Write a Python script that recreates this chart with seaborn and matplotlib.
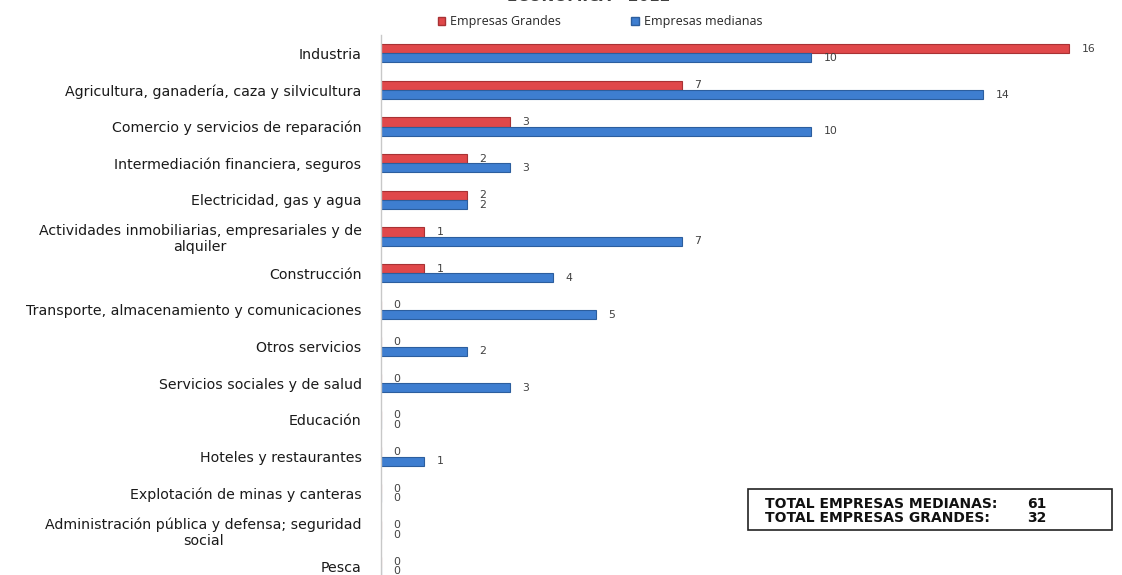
import matplotlib
matplotlib.use("Agg")
import matplotlib.pyplot as plt
from matplotlib.patches import Patch, Rectangle
import seaborn as sns
import pandas as pd

sectores = [
    "Industria",
    "Agricultura, ganadería, caza y silvicultura",
    "Comercio y servicios de reparación",
    "Intermediación financiera, seguros",
    "Electricidad, gas y agua",
    "Actividades inmobiliarias, empresariales y de\nalquiler",
    "Construcción",
    "Transporte, almacenamiento y comunicaciones",
    "Otros servicios",
    "Servicios sociales y de salud",
    "Educación",
    "Hoteles y restaurantes",
    "Explotación de minas y canteras",
    "Administración pública y defensa; seguridad\nsocial",
    "Pesca",
]
grandes = [16, 7, 3, 2, 2, 1, 1, 0, 0, 0, 0, 0, 0, 0, 0]
medianas = [10, 14, 10, 3, 2, 7, 4, 5, 2, 3, 0, 1, 0, 0, 0]
series = ["Empresas Grandes", "Empresas medianas"]
colores = ["#E0484A", "#3E7ED0"]
bordes = ["#A83234", "#2C5E9E"]
totales = [("TOTAL EMPRESAS MEDIANAS:", sum(medianas)),
           ("TOTAL EMPRESAS GRANDES:", sum(grandes))]

df = pd.DataFrame({
    "sector": sectores * 2,
    "valor": grandes + medianas,
    "serie": [series[0]] * len(sectores) + [series[1]] * len(sectores),
})

sns.set_theme(style="white")
plt.rcParams["font.family"] = ["DejaVu Sans"]

W, H = 1122, 575
fig = plt.figure(figsize=(W / 100, H / 100), dpi=100)
x0 = 381
ax = fig.add_axes([x0 / W, 1 - 585 / H, (W - x0) / W, 550 / H])

sns.barplot(data=df, y="sector", x="valor", hue="serie", hue_order=series,
            palette=colores, saturation=1, orient="h", width=0.5, ax=ax,
            legend=False)

# borde más oscuro en cada barra para dar volumen
for cont, borde in zip(ax.containers, bordes):
    for bar in cont:
        bar.set_edgecolor(borde)
        bar.set_linewidth(0.8)

ax.set_xlim(0, (W - x0) / 43.0)
ax.set_xlabel("")
ax.set_ylabel("")
ax.set_xticks([])
ax.tick_params(axis="y", length=0, pad=14, labelsize=10.2, labelcolor="#1a1a1a")
for lbl in ax.get_yticklabels():
    lbl.set_horizontalalignment("right")
    lbl.set_multialignment("center")
for s in ["top", "right", "bottom"]:
    ax.spines[s].set_visible(False)
ax.spines["left"].set_color("#c8c8c8")
ax.spines["left"].set_linewidth(1.0)

for cont in ax.containers:
    ax.bar_label(cont, fmt="%d", padding=9, fontsize=7.8, color="#404040")

# leyenda
handles = [Patch(facecolor=c, edgecolor=b) for c, b in zip(colores, bordes)]
fig.legend(handles, series, loc="center", bbox_to_anchor=(600 / W, 1 - 22 / H),
           ncol=2, frameon=False, handlelength=0.6, handleheight=0.6,
           handletextpad=0.4, columnspacing=5.6,
           prop={"family": "Open Sans", "size": 9})

fig.text(589 / W, 1 - 1 / H, "ECONÓMICA - 2012", ha="center", va="baseline",
         fontsize=11, fontweight="bold", color="#404040")

# recuadro de totales
fig.patches.append(Rectangle((748 / W, 1 - 530 / H), 364 / W, 41 / H,
                             transform=fig.transFigure, fill=False,
                             edgecolor="#222222", linewidth=1.2))
for i, (txt, val) in enumerate(totales):
    y = 1 - (504 + 14 * i) / H
    fig.text(765 / W, y, txt, ha="left", va="center", fontsize=10,
             fontweight="bold", color="#111111")
    fig.text(1027 / W, y, str(val), ha="left", va="center", fontsize=10,
             fontweight="bold", color="#111111")

fig.savefig("out.png", dpi=100)
